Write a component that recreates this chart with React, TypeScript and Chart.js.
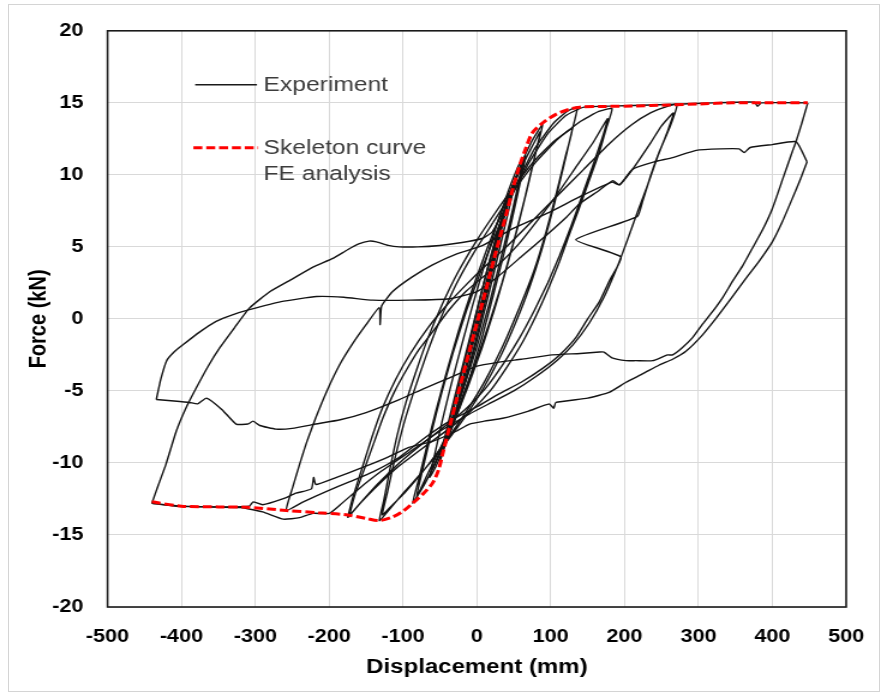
import React, { useEffect, useRef } from "react";
import { Chart, registerables } from "chart.js";

Chart.register(...registerables);

// ---------- axis settings ----------
const X_MIN = -500;
const X_MAX = 500;
const X_STEP = 100;
const Y_MIN = -20;
const Y_MAX = 20;
const Y_STEP = 5;

const xTitle = "Displacement (mm)";
const yTitle = "Force (kN)";
const legendExperiment = "Experiment";
const legendSkeleton = ["Skeleton curve", "FE analysis"];

type P = [number, number];

// ---------- FE skeleton curve (displacement mm, force kN) ----------
const skeletonCurve: P[] = [
  [-440, -12.7], [-400, -13.0], [-350, -13.05], [-312, -13.07], [-258, -13.3], [-215, -13.45],
  [-177, -13.6], [-150, -13.85], [-132, -14.0], [-114, -13.75], [-100, -13.35], [-87, -12.8],
  [-72, -12.1], [-60, -11.4], [-52, -10.5], [-46, -9.3], [-37, -7.5], [-28, -5.7], [-10, -2.2],
  [8, 1.2], [26, 4.7], [40, 7.3], [48, 8.9], [57, 10.5], [66, 11.8], [75, 12.9], [89, 13.6],
  [107, 14.2], [125, 14.55], [139, 14.7], [175, 14.75], [211, 14.78], [260, 14.85], [301, 14.92],
  [346, 15.0], [400, 15.0], [448, 15.0],
];

// ---------- Experiment: cyclic branches ----------
const cycles25: P[] = [
  [0, 0], [8, 1.5], [16, 3.0], [25, 4.6], [20, 3.4], [12, 1.6], [3, -0.2], [-6, -1.9], [-15, -3.7],
  [-25, -5.6], [-20, -4.4], [-12, -2.7], [-3, -0.8], [6, 1.1], [15, 2.9], [24, 4.5], [19, 3.3],
  [10, 1.4], [1, -0.5], [-8, -2.3], [-17, -4.1], [-24, -5.4], [-18, -4.0], [-9, -2.0], [0, 0], [10, 2.0],
];

const cycles35: P[] = [
  [0, -0.5], [12, 2.0], [24, 4.6], [36, 6.9], [30, 5.4], [20, 3.1], [9, 0.7], [-3, -1.8], [-15, -4.1],
  [-27, -6.1], [-36, -7.6], [-30, -6.0], [-20, -3.8], [-8, -1.2], [5, 1.6], [18, 4.2], [32, 6.6],
  [38, 7.4],
];

const cycles50: P[] = [
  [10, 2.0], [22, 4.4], [34, 6.7], [45, 8.6], [53, 9.9], [46, 8.2], [36, 6.0], [25, 3.6], [13, 1.1],
  [0, -1.5], [-13, -3.9], [-26, -6.0], [-38, -7.9], [-50, -9.9], [-44, -8.5], [-34, -6.4], [-22, -3.9],
  [-9, -1.3], [4, 1.4], [17, 4.0], [30, 6.4], [42, 8.4], [51, 9.6], [44, 7.8], [33, 5.4], [21, 2.8],
  [8, 0.1], [-6, -2.6], [-20, -5.0], [-34, -7.2], [-48, -9.4], [-42, -7.9], [-30, -5.4], [-16, -2.6],
  [-2, 0.2], [12, 3.0], [26, 5.6],
];

const cycles65: P[] = [
  [5, 0.5], [18, 3.4], [32, 6.1], [46, 8.6], [60, 10.6], [66, 11.3], [58, 9.3], [48, 7.0], [36, 4.4],
  [22, 1.6], [8, -1.1], [-8, -3.8], [-24, -6.2], [-40, -8.4], [-56, -10.3], [-64, -11.0], [-57, -9.4],
  [-47, -7.1], [-35, -4.6], [-21, -1.9], [-6, 0.9], [10, 3.7], [26, 6.4], [42, 8.8], [56, 10.6],
  [63, 11.2], [55, 9.1], [44, 6.6], [31, 3.9], [17, 1.1], [2, -1.6], [-14, -4.2], [-30, -6.6],
  [-46, -8.7], [-60, -10.4],
];

const cycles90: P[] = [
  [26, 5.6], [42, 8.2], [58, 10.5], [74, 12.3], [89, 13.5], [80, 11.6], [68, 9.0], [55, 6.3], [40, 3.5],
  [24, 0.7], [7, -2.0], [-12, -4.7], [-32, -7.3], [-52, -9.6], [-70, -11.4], [-87, -12.8], [-79, -11.2],
  [-68, -8.9], [-55, -6.3], [-40, -3.5], [-24, -0.7], [-6, 2.1], [14, 4.9], [34, 7.5], [54, 9.9],
  [72, 11.7], [86, 13.0], [77, 11.0], [64, 8.2], [50, 5.4], [34, 2.5], [16, -0.4], [-3, -3.2],
  [-24, -6.0], [-46, -8.6], [-66, -10.7], [-82, -12.4], [-74, -10.6], [-62, -8.0], [-48, -5.2],
  [-32, -2.3], [-14, 0.6], [6, 3.4], [28, 6.2],
];

const cycles130: P[] = [
  [28, 6.2], [52, 9.2], [78, 11.8], [104, 13.6], [122, 14.4], [136, 14.7], [128, 12.9], [117, 10.5],
  [104, 7.8], [89, 5.0], [72, 2.3], [53, -0.2], [32, -2.6], [9, -4.8], [-16, -6.8], [-42, -8.6],
  [-70, -10.4], [-98, -12.0], [-118, -13.2], [-132, -14.0], [-126, -12.6], [-118, -10.5], [-108, -8.1],
  [-96, -5.8], [-82, -3.6], [-66, -1.3], [-47, 1.0], [-26, 3.2], [-2, 5.3], [24, 7.3], [52, 9.3],
  [80, 11.1], [106, 12.4], [129, 13.2], [120, 11.3], [108, 8.8], [94, 6.1], [77, 3.3], [57, 0.7],
  [35, -1.9], [11, -4.3], [-14, -6.4], [-41, -8.4], [-70, -10.4], [-98, -12.1], [-118, -13.1],
  [-128, -13.6], [-121, -12.0], [-111, -9.7], [-99, -7.3], [-85, -5.0], [-69, -2.6], [-50, -0.1],
  [-28, 2.4], [-4, 4.6], [22, 6.7],
];

const cycles180: P[] = [
  [22, 6.7], [50, 8.9], [80, 10.9], [110, 12.5], [140, 13.7], [165, 14.4], [183, 14.6], [175, 13.2],
  [166, 11.6], [152, 9.6], [138, 7.6], [124, 5.7], [112, 4.0], [96, 2.0], [80, 0.2], [62, -1.6],
  [40, -3.4], [18, -5.0], [-8, -6.4], [-37, -7.6], [-69, -8.8], [-105, -10.2], [-135, -11.6],
  [-158, -12.8], [-172, -13.6], [-165, -12.2], [-150, -10.1], [-138, -8.4], [-127, -6.85],
  [-112, -5.1], [-96, -3.6], [-78, -2.1], [-60, -0.9], [-38, 0.6], [-15, 1.9], [8, 2.9], [30, 3.8],
  [55, 5.1], [80, 6.7], [108, 8.6], [135, 10.6], [158, 12.3], [177, 13.9], [170, 12.6], [156, 10.5],
  [142, 8.5], [128, 6.5], [112, 4.4], [96, 2.5], [78, 0.6], [58, -1.3], [36, -3.1], [12, -4.8],
  [-14, -6.2], [-42, -7.4], [-72, -8.6], [-105, -10.0], [-135, -11.5], [-158, -12.8], [-175, -13.8],
];

const cycles270: P[] = [
  [-175, -13.8], [-168, -12.4], [-155, -10.3], [-142, -8.2], [-128, -6.2], [-110, -4.2], [-90, -2.4],
  [-66, -0.6], [-40, 1.0], [-14, 2.4], [10, 3.6], [40, 5.0], [75, 6.8], [110, 8.6], [145, 10.4],
  [180, 12.2], [210, 13.5], [235, 14.3], [255, 14.7], [271, 14.9],
  [262, 13.4], [247, 11.6], [235, 9.9], [224, 8.1], [217, 7.1], [134, 5.5], [195, 4.3], [180, 2.7],
  [166, 1.2], [150, 0], [134, -1.3], [112, -2.5], [90, -3.4], [60, -4.4], [30, -5.2], [0, -6.1],
  [-37, -7.1], [-69, -8.2], [-105, -9.6], [-140, -10.6], [-172, -11.3], [-205, -12.0], [-235, -12.7],
  [-258, -13.3],
  [-250, -11.8], [-240, -10.1], [-230, -8.5], [-218, -6.85], [-203, -5.0], [-186, -3.2], [-168, -1.7],
  [-150, -0.4], [-132, 0.8], [-131, -0.4], [-129, 0.9], [-114, 1.9], [-88, 2.9], [-60, 3.75],
  [-28, 4.5], [8, 5.1], [50, 6.3], [98, 7.4], [140, 8.5], [183, 9.5], [193, 9.3], [211, 10.4],
  [235, 12.2], [250, 13.4], [266, 14.3],
  [258, 13.0], [245, 11.3], [232, 9.4], [218, 7.5], [204, 5.5], [190, 3.6], [172, 1.5], [152, -0.3],
  [130, -1.8], [108, -2.9], [80, -4.0], [50, -5.0], [20, -5.8], [-10, -6.6], [-50, -7.8], [-90, -9.2],
  [-130, -10.6], [-160, -11.8], [-185, -12.9], [-200, -13.5], [-222, -13.5], [-240, -13.8],
  [-262, -13.9], [-290, -13.4], [-320, -13.1], [-370, -13.05], [-410, -13.0], [-440, -12.8],
];

const reload440First: P[] = [
  [-440, -12.8], [-431, -11.5], [-421, -10.1], [-407, -7.8], [-394, -6.2], [-380, -4.8], [-364, -3.3],
  [-348, -2.0], [-328, -0.6], [-308, 0.75], [-280, 1.9], [-249, 2.8], [-222, 3.6], [-195, 4.2],
  [-175, 4.8], [-160, 5.2], [-146, 5.4], [-136, 5.35], [-120, 5.1], [-105, 5.0], [-80, 5.0], [-50, 5.1],
  [-20, 5.3], [8, 5.6], [21, 6.05], [45, 8.3], [70, 10.8], [95, 12.8], [120, 14.1], [145, 14.7],
  [200, 14.8], [270, 14.9], [320, 15.0], [376, 15.05], [380, 14.75], [385, 15.0], [448, 15.0],
];

const unload440First: P[] = [
  [448, 15.0], [440, 13.6], [432, 12.3], [427, 11.6], [414, 9.7], [400, 7.65], [387, 6.2], [373, 4.9],
  [360, 3.7], [346, 2.6], [333, 1.5], [319, 0.5], [305, -0.4], [292, -1.3], [278, -2.0], [265, -2.5],
  [258, -2.5], [238, -2.9], [215, -2.9], [202, -2.9], [183, -2.7], [172, -2.3], [166, -2.3],
  [140, -2.4], [102, -2.5], [60, -2.8], [30, -3.0], [-1, -3.3], [-37, -4.1], [-70, -4.8], [-105, -5.6],
  [-150, -6.5], [-185, -7.0], [-218, -7.3], [-250, -7.6], [-272, -7.65], [-294, -7.4], [-303, -7.1],
  [-310, -7.3], [-326, -7.3], [-345, -6.3], [-366, -5.5], [-378, -5.9], [-389, -5.8], [-410, -5.7],
  [-434, -5.6],
];

const reload440Second: P[] = [
  [-434, -5.6], [-428, -4.2], [-420, -2.9], [-410, -2.3], [-398, -1.8], [-375, -0.9], [-353, -0.17],
  [-330, 0.3], [-308, 0.64], [-265, 1.2], [-217, 1.55], [-180, 1.5], [-141, 1.3], [-90, 1.3],
  [-37, 1.4], [0, 1.9], [30, 3.0], [62, 4.4], [94, 5.8], [120, 7.0], [139, 8.0], [165, 8.9], [184, 9.6],
  [193, 9.3], [211, 10.4], [240, 10.9], [265, 11.2], [297, 11.7], [330, 11.8], [355, 11.8],
  [362, 11.55], [370, 11.9], [400, 12.1], [432, 12.3], [447, 10.9],
];

const unload440Second: P[] = [
  [447, 10.9], [438, 9.7], [427, 8.35], [414, 6.8], [400, 5.35], [382, 4.0], [364, 2.8], [344, 1.4],
  [324, 0.05], [304, -1.2], [283, -2.25], [265, -2.8], [247, -3.2], [225, -3.8], [202, -4.4],
  [179, -5.1], [150, -5.5], [107, -5.8], [104, -6.2], [98, -5.9], [70, -6.4], [35, -6.9], [10, -7.1],
  [-10, -7.3], [-28, -7.8], [-60, -8.5], [-91, -8.9], [-125, -9.7], [-159, -10.4], [-190, -11.0],
  [-218, -11.5], [-221, -11.0], [-224, -11.8], [-245, -12.1], [-263, -12.5], [-290, -12.9],
  [-303, -12.7], [-308, -13.0], [-340, -13.05], [-400, -13.0], [-440, -12.8],
];

const experimentBranches: P[][] = [
  cycles25, cycles35, cycles50, cycles65, cycles90, cycles130, cycles180, cycles270,
  reload440First, unload440First, reload440Second, unload440Second,
];

const FONT = "'Liberation Sans', Arial, Helvetica, sans-serif";
const toXY = (pts: P[]) => pts.map(([x, y]) => ({ x, y }));

const boxAndLegend = {
  id: "boxAndLegend",
  beforeDatasetsDraw(chart: any) {
    const { ctx, chartArea: a } = chart;
    ctx.save();
    ctx.strokeStyle = "#1a1a1a";
    ctx.lineWidth = 1.6;
    ctx.strokeRect(a.left, a.top, a.right - a.left, a.bottom - a.top);
    ctx.restore();
  },
  afterDatasetsDraw(chart: any) {
    const { ctx, chartArea: a } = chart;
    ctx.save();
    ctx.strokeStyle = "#1a1a1a";
    ctx.lineWidth = 1.5;
    ctx.setLineDash([]);
    ctx.beginPath();
    ctx.moveTo(a.left + 73, a.top + 54);
    ctx.lineTo(a.left + 124.5, a.top + 54);
    ctx.stroke();
    ctx.strokeStyle = "#ff0000";
    ctx.lineWidth = 3;
    ctx.setLineDash([7.5, 3.2]);
    ctx.beginPath();
    ctx.moveTo(a.left + 71.5, a.top + 117);
    ctx.lineTo(a.left + 125.5, a.top + 117);
    ctx.stroke();
    ctx.setLineDash([]);
    ctx.fillStyle = "#3c3c3c";
    ctx.font = `20.5px ${FONT}`;
    ctx.textBaseline = "middle";
    ctx.textAlign = "left";
    ctx.fillText(legendExperiment, a.left + 130, a.top + 55);
    ctx.fillText(legendSkeleton[0], a.left + 130, a.top + 118);
    ctx.fillText(legendSkeleton[1], a.left + 130, a.top + 144);
    ctx.restore();
  },
};

export default function App() {
  const canvasRef = useRef<HTMLCanvasElement | null>(null);

  useEffect(() => {
    const canvas = canvasRef.current;
    if (!canvas) return;
    const datasets: any[] = [
      {
        label: "Skeleton curve FE analysis",
        data: toXY(skeletonCurve),
        showLine: true,
        borderColor: "#ff0000",
        borderWidth: 3,
        borderDash: [7.5, 3.2],
        pointRadius: 0,
        tension: 0.3,
        fill: false,
      },
      ...experimentBranches.map((b, i) => ({
        label: i === 0 ? "Experiment" : `Experiment ${i}`,
        data: toXY(b),
        showLine: true,
        borderColor: "#141414",
        borderWidth: 1.4,
        pointRadius: 0,
        tension: 0.15,
        fill: false,
      })),
    ];

    const chart = new Chart(canvas, {
      type: "scatter",
      data: { datasets },
      options: {
        responsive: false,
        maintainAspectRatio: false,
        animation: false,
        events: [],
        layout: { padding: { left: 0, right: 33.4, top: 28, bottom: 0 } },
        plugins: { legend: { display: false }, tooltip: { enabled: false } },
        scales: {
          x: {
            type: "linear",
            min: X_MIN,
            max: X_MAX,
            ticks: {
              stepSize: X_STEP,
              autoSkip: false,
              maxRotation: 0,
              padding: 19,
              color: "#000",
              font: { family: FONT, size: 18, weight: "bold" },
              callback: (v: any) => String(v),
            },
            grid: { color: "#d9d9d9", lineWidth: 1, drawTicks: false },
            border: { display: false },
            title: {
              display: true,
              text: xTitle,
              color: "#000",
              font: { family: FONT, size: 20, weight: "bold" },
              padding: { top: 0, bottom: 16 },
            },
            afterFit: (s: any) => {
              s.height = 88;
            },
          },
          y: {
            type: "linear",
            min: Y_MIN,
            max: Y_MAX,
            ticks: {
              stepSize: Y_STEP,
              padding: 20,
              color: "#000",
              font: { family: FONT, size: 18, weight: "bold" },
              callback: (v: any) => String(v),
            },
            grid: { color: "#d9d9d9", lineWidth: 1, drawTicks: false },
            border: { display: false },
            title: {
              display: true,
              text: yTitle,
              color: "#000",
              font: { family: FONT, size: 20, weight: "bold" },
              padding: { top: 20, bottom: 0 },
            },
            afterFit: (s: any) => {
              s.width = 89.6;
            },
          },
        },
      } as any,
      plugins: [boxAndLegend],
    });
    return () => chart.destroy();
  }, []);

  return (
    <div style={{ position: "absolute", left: 0, top: 0, width: 887, height: 695, background: "#fff" }}>
      <canvas
        ref={canvasRef}
        width={739}
        height={695}
        style={{ width: "887px", height: "695px", display: "block" }}
      />
      <div
        style={{
          position: "absolute",
          left: 8,
          top: 4,
          width: 870,
          height: 686,
          border: "1px solid #d4d4d4",
          pointerEvents: "none",
        }}
      />
    </div>
  );
}
